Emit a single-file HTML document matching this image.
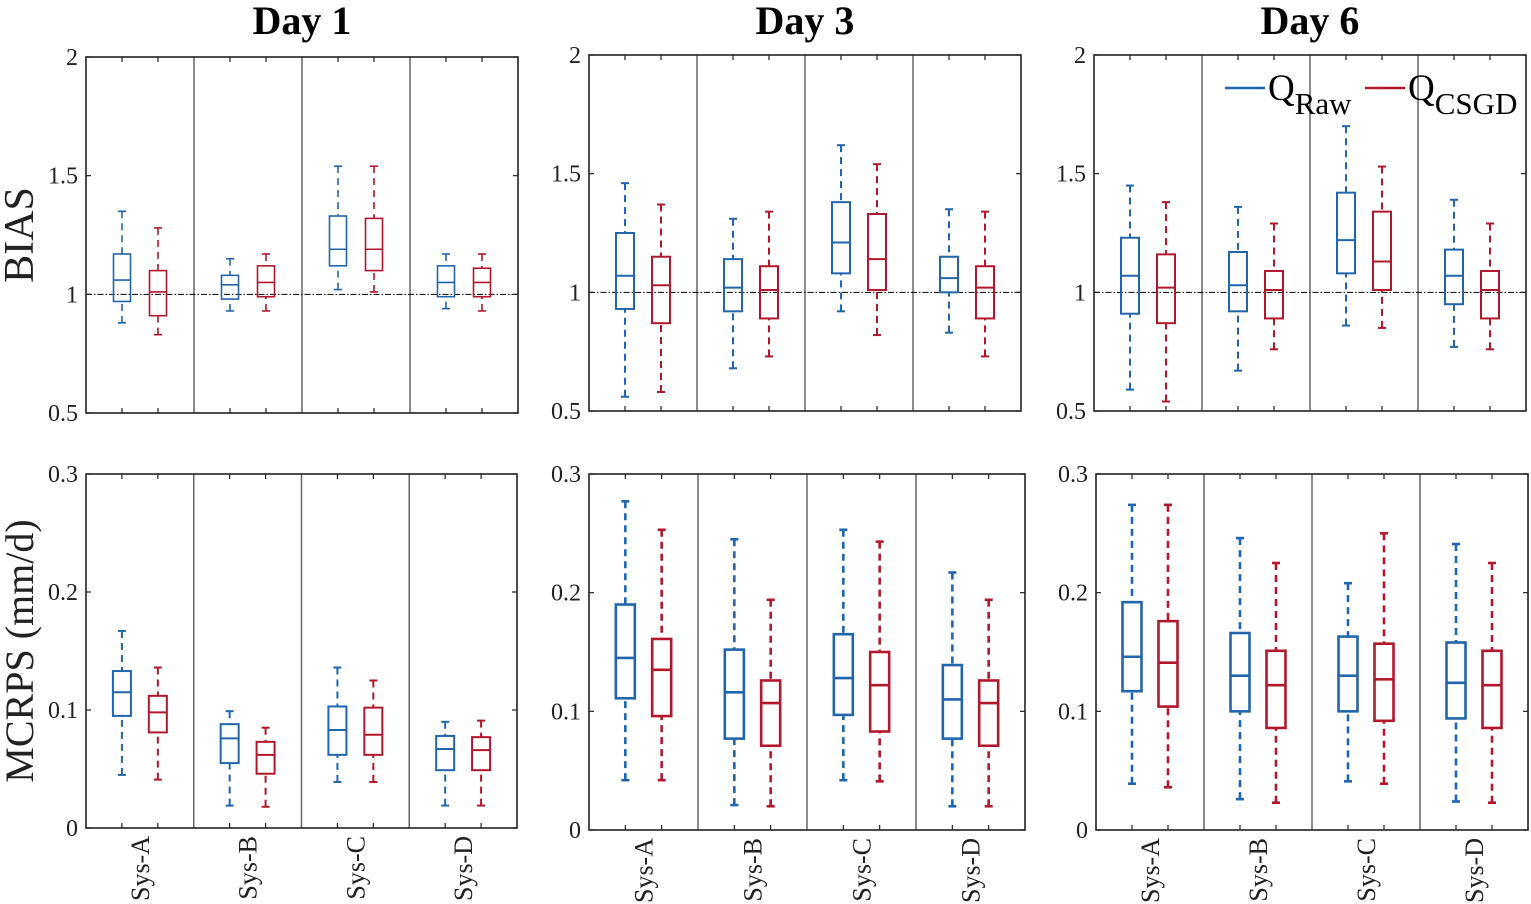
<!DOCTYPE html>
<html><head><meta charset="utf-8"><style>
html,body{margin:0;padding:0;background:#fff}
svg{display:block;font-family:"Liberation Serif",serif}
</style></head><body>
<svg id="fig" width="1531" height="904" viewBox="0 0 1531 904" xmlns="http://www.w3.org/2000/svg"></svg>
<script>
const systems = ["Sys-A","Sys-B","Sys-C","Sys-D"];
const days = ["Day 1","Day 3","Day 6"];
// each box: [lowWhisker, q1, median, q3, highWhisker]; per system: [raw, csgd]
const biasDay1 = [[[.88,.97,1.06,1.17,1.35],[.83,.91,1.01,1.10,1.28]],[[.93,.98,1.04,1.08,1.15],[.93,.99,1.05,1.12,1.17]],[[1.02,1.12,1.19,1.33,1.54],[1.01,1.10,1.19,1.32,1.54]],[[.94,.99,1.05,1.12,1.17],[.93,.99,1.05,1.11,1.17]]];
const biasDay3 = [[[.56,.93,1.07,1.25,1.46],[.58,.87,1.03,1.15,1.37]],[[.68,.92,1.02,1.14,1.31],[.73,.89,1.01,1.11,1.34]],[[.92,1.08,1.21,1.38,1.62],[.82,1.01,1.14,1.33,1.54]],[[.83,1.00,1.06,1.15,1.35],[.73,.89,1.02,1.11,1.34]]];
const biasDay6 = [[[.59,.91,1.07,1.23,1.45],[.54,.87,1.02,1.16,1.38]],[[.67,.92,1.03,1.17,1.36],[.76,.89,1.01,1.09,1.29]],[[.86,1.08,1.22,1.42,1.70],[.85,1.01,1.13,1.34,1.53]],[[.77,.95,1.07,1.18,1.39],[.76,.89,1.01,1.09,1.29]]];
const crpsDay1 = [[[.045,.095,.115,.133,.167],[.041,.081,.098,.112,.136]],[[.019,.055,.076,.088,.099],[.018,.046,.062,.073,.085]],[[.039,.062,.083,.103,.136],[.039,.062,.079,.102,.125]],[[.019,.049,.067,.078,.090],[.019,.049,.066,.077,.091]]];
const crpsDay3 = [[[.042,.111,.145,.190,.277],[.042,.096,.135,.161,.253]],[[.021,.077,.116,.152,.245],[.020,.071,.107,.126,.194]],[[.042,.097,.128,.165,.253],[.041,.083,.122,.150,.243]],[[.020,.077,.110,.139,.217],[.020,.071,.107,.126,.194]]];
const crpsDay6 = [[[.039,.117,.146,.192,.274],[.036,.104,.141,.176,.274]],[[.026,.100,.130,.166,.246],[.023,.086,.122,.151,.225]],[[.041,.100,.130,.163,.208],[.039,.092,.127,.157,.250]],[[.024,.094,.124,.158,.241],[.023,.086,.122,.151,.225]]];
const biasTicks = [0.5,1,1.5,2];
const biasTickLabels = ["0.5","1","1.5","2"];
const crpsTicks = [0,0.1,0.2,0.3];
const crpsTickLabels = ["0","0.1","0.2","0.3"];

const NS="http://www.w3.org/2000/svg";
const svg=document.getElementById('fig');
const BLUE="#2166ac", RED="#b2182b";
function mk(tag,attrs,parent){const e=document.createElementNS(NS,tag);for(const k in attrs)e.setAttribute(k,attrs[k]);(parent||svg).appendChild(e);return e;}

const panels=[
 {x0:86,x1:518,y0:57,y1:413,data:biasDay1,ticks:biasTicks,labels:biasTickLabels,lo:0.5,hi:2,ref:true,lw:1.6,bw:17},
 {x0:589,x1:1021,y0:55,y1:411,data:biasDay3,ticks:biasTicks,labels:biasTickLabels,lo:0.5,hi:2,ref:true,lw:2,bw:18},
 {x0:1094,x1:1526,y0:55,y1:411,data:biasDay6,ticks:biasTicks,labels:biasTickLabels,lo:0.5,hi:2,ref:true,lw:2,bw:18},
 {x0:86,x1:517,y0:474,y1:828,data:crpsDay1,ticks:crpsTicks,labels:crpsTickLabels,lo:0,hi:0.3,ref:false,lw:2,bw:18},
 {x0:589,x1:1025,y0:474,y1:830,data:crpsDay3,ticks:crpsTicks,labels:crpsTickLabels,lo:0,hi:0.3,ref:false,lw:2.6,bw:19},
 {x0:1096,x1:1528,y0:474,y1:830,data:crpsDay6,ticks:crpsTicks,labels:crpsTickLabels,lo:0,hi:0.3,ref:false,lw:2.6,bw:19}
];

panels.forEach((p,pi)=>{
  const g=mk('g',{});
  
  
  const y=v=>p.y1-(v-p.lo)/(p.hi-p.lo)*(p.y1-p.y0);
  const gw=(p.x1-p.x0)/4;
  for(let i=1;i<4;i++){const l=mk('line',{x1:p.x0+gw*i,x2:p.x0+gw*i,y1:p.y0,y2:p.y1,stroke:'#666','stroke-width':1.5},g);
    }
  if(p.ref){const l=mk('line',{x1:p.x0,x2:p.x1,y1:y(1),y2:y(1),stroke:'#000','stroke-width':1,'stroke-dasharray':'6 2 1.5 2'},g);
    }
  p.ticks.forEach((t,i)=>{
    mk('line',{x1:p.x0,x2:p.x0+5,y1:y(t),y2:y(t),stroke:'#222','stroke-width':1.2},g);
    mk('line',{x1:p.x1,x2:p.x1-5,y1:y(t),y2:y(t),stroke:'#222','stroke-width':1.2},g);
    const tx=mk('text',{x:p.x0-8,y:y(t)+8,'text-anchor':'end','font-size':24,fill:'#222'},g);
    tx.textContent=p.labels[i];
    
  });
  systems.forEach((s,si)=>{
    [0,1].forEach(k=>{
      const cx=p.x0+gw*si+gw*(k+1)/3;
      mk('line',{x1:cx,x2:cx,y1:p.y0,y2:p.y0+5,stroke:'#222','stroke-width':1.2},g);
      mk('line',{x1:cx,x2:cx,y1:p.y1,y2:p.y1-5,stroke:'#222','stroke-width':1.2},g);
      const d=p.data[si][k], c=k?RED:BLUE;
      const bg=mk('g',{stroke:c,'stroke-width':p.lw,fill:'none'},g);
      
      
      mk('line',{x1:cx,x2:cx,y1:y(d[0]),y2:y(d[1]),'stroke-dasharray':'7 5'},bg);
      mk('line',{x1:cx,x2:cx,y1:y(d[4]),y2:y(d[3]),'stroke-dasharray':'7 5'},bg);
      mk('line',{x1:cx-4,x2:cx+4,y1:y(d[0]),y2:y(d[0])},bg);
      mk('line',{x1:cx-4,x2:cx+4,y1:y(d[4]),y2:y(d[4])},bg);
      mk('rect',{x:cx-p.bw/2,y:y(d[3]),width:p.bw,height:y(d[1])-y(d[3])},bg);
      mk('line',{x1:cx-p.bw/2,x2:cx+p.bw/2,y1:y(d[2]),y2:y(d[2])},bg);
    });
    if(pi>=3){
      const cx=p.x0+gw*si+gw/2;
      const tx=mk('text',{x:0,y:0,'text-anchor':'end','font-size':26,fill:'#222',transform:`translate(${cx+9},${p.y1+8}) rotate(-90)`},g);
      tx.textContent=s;
      
    }
  });
  const fr=mk('rect',{x:p.x0,y:p.y0,width:p.x1-p.x0,height:p.y1-p.y0,fill:'none',stroke:'#222','stroke-width':1.6},g);
  
  if(pi<3){
    const t=mk('text',{x:(p.x0+p.x1)/2,y:34,'text-anchor':'middle','font-size':40,'font-weight':'bold',fill:'#000'},g);
    t.textContent=days[pi];
    
  }
});
let yl=mk('text',{x:0,y:0,'text-anchor':'middle','font-size':42,fill:'#222',transform:'translate(33,235) rotate(-90)'});
yl.textContent='BIAS';

yl=mk('text',{x:0,y:0,'text-anchor':'middle','font-size':40,fill:'#222',transform:'translate(33,651) rotate(-90)'});
yl.textContent='MCRPS (mm/d)';

const lg=mk('g',{});

mk('line',{x1:1225,x2:1265,y1:88,y2:88,stroke:BLUE,'stroke-width':2.5},lg);
let lt=mk('text',{x:1268,y:100,'font-size':37,fill:'#000'},lg);
lt.innerHTML='Q<tspan font-size="31" dy="14">Raw</tspan>';

mk('line',{x1:1365,x2:1405,y1:88,y2:88,stroke:RED,'stroke-width':2.5},lg);
lt=mk('text',{x:1408,y:100,'font-size':37,fill:'#000'},lg);
lt.innerHTML='Q<tspan font-size="31" dy="14">CSGD</tspan>';

</script>
</body></html>
